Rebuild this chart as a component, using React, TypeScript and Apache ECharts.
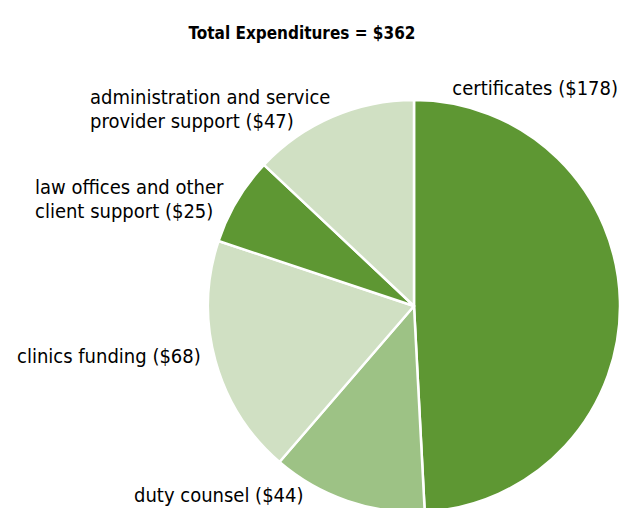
import React, { useEffect, useRef } from "react";
import * as echarts from "echarts";

const categories = [
  "certificates",
  "duty counsel",
  "clinics funding",
  "law offices and other\nclient support",
  "administration and service\nprovider support",
];
const values = [178, 44, 68, 25, 47];
const colors = ["#5e9733", "#9dc285", "#d0e0c3", "#5e9733", "#d0e0c3"];
const titleText = "Total Expenditures = $362";

// label anchor positions (pixels) and alignment
const labelPos = [
  { x: 618, y: 88, align: "right" },
  { x: 134, y: 495, align: "left" },
  { x: 17, y: 356, align: "left" },
  { x: 35, y: 199, align: "left" },
  { x: 90, y: 109, align: "left" },
];

const FONT = "'Liberation Sans Narrow', 'DejaVu Sans Condensed', sans-serif";

export default function App() {
  const ref = useRef<HTMLDivElement>(null);
  useEffect(() => {
    document.body.style.margin = "0";
    const chart = echarts.init(ref.current!, null, { renderer: "svg" });
    chart.setOption({
      animation: false,
      backgroundColor: "#ffffff",
      title: {
        text: titleText,
        left: 297,
        top: 19,
        textAlign: "center",
        textStyle: { fontFamily: FONT, fontSize: 17, fontWeight: "bold", color: "#000" },
      },
      series: [
        {
          type: "pie",
          center: [414, 306],
          radius: [0, 206],
          startAngle: 90,
          clockwise: true,
          avoidLabelOverlap: false,
          itemStyle: { borderColor: "#ffffff", borderWidth: 2.5 },
          label: {
            show: true,
            position: "outside",
            fontFamily: FONT,
            fontSize: 20,
            lineHeight: 24,
            color: "#000",
            formatter: (p: any) => `${p.name} ($${p.value})`,
          },
          labelLine: { show: false },
          labelLayout: (params: any) => {
            const p = labelPos[params.dataIndex];
            return { x: p.x, y: p.y, align: p.align, verticalAlign: "middle", hideOverlap: false };
          },
          data: categories.map((c, i) => ({
            name: c,
            value: values[i],
            itemStyle: { color: colors[i] },
          })),
        },
      ],
    });
    return () => chart.dispose();
  }, []);
  return <div ref={ref} style={{ width: 629, height: 508 }} />;
}
